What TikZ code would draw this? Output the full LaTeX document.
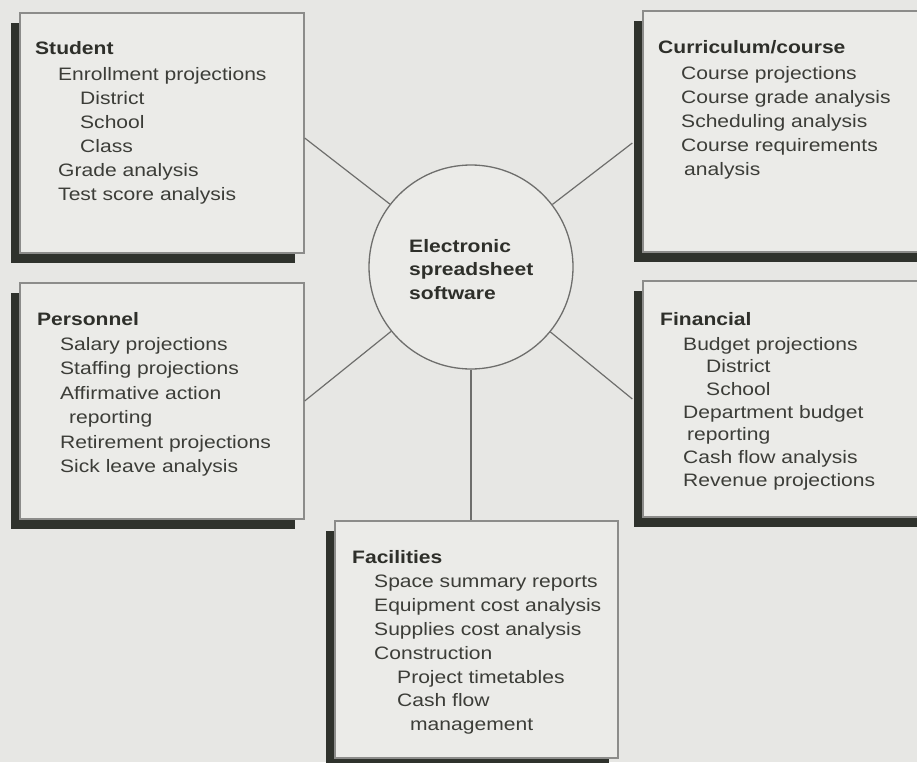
\documentclass[tikz,border=0pt]{standalone}
\usepackage{fontspec}
\setmainfont[FakeStretch=1.17]{Liberation Sans}
\usetikzlibrary{shadows}
\definecolor{paper}{HTML}{E7E7E4}
\definecolor{panelfill}{HTML}{EBEBE8}
\definecolor{panelrule}{HTML}{8C8C8A}
\definecolor{shade}{HTML}{2F322C}
\definecolor{ink}{HTML}{3C3D38}
\definecolor{headink}{HTML}{2E2F2A}
\definecolor{wirecol}{HTML}{6E6E6C}
% one indented line of a panel list
\newcommand\ent[2]{\hbox{\kern#1pt\relax#2}}
% bold panel heading
\newcommand\head[1]{\hbox{\bfseries\color{headink}#1}}

\begin{document}
\begin{tikzpicture}[x=1pt,y=-1pt,
  panel/.style={rectangle, draw=panelrule, line width=1.3pt, fill=panelfill,
    inner sep=0pt,
    drop shadow={shadow xshift=-9pt, shadow yshift=-10pt, fill=shade, opacity=1}},
  hub/.style={circle, draw=wirecol, line width=1.3pt, fill=panelfill,
    minimum size=204pt, inner sep=0pt},
  txt/.style={anchor=base west, inner sep=0pt, text=ink,
    font=\fontsize{18}{24}\selectfont},
  wire/.style={draw=wirecol, line width=1.2pt}]

\useasboundingbox (0,0) rectangle (917,762);
\clip (0,0) rectangle (917,762);
\fill[paper] (0,0) rectangle (917,762);

% panels
\node[panel, minimum width=284pt, minimum height=240pt] (stu) at (162,133) {};
\node[panel, minimum width=287pt, minimum height=241pt] (cur) at (786.5,131.5) {};
\node[panel, minimum width=284pt, minimum height=236pt] (per) at (162,401) {};
\node[panel, minimum width=287pt, minimum height=236pt] (fin) at (786.5,399) {};
\node[panel, minimum width=283pt, minimum height=237pt] (fac) at (476.5,639.5) {};

% central circle
\node[hub] (hub) at (471,267) {};

% connectors
\draw[wire] ([yshift=-5pt]stu.east) -- (hub);
\draw[wire] ([shift={(-10pt,-11.5pt)}]cur.west) -- (hub);
\draw[wire] (per.east) -- (hub);
\draw[wire] ([xshift=-10pt]fin.west) -- (hub);
\draw[wire] (hub.south) -- (hub.south |- fac.north);

% hub label
\node[txt, text=headink] (hubT) at (409,252) {\vtop{\baselineskip=23.5pt\relax
  \head{Electronic}\head{spreadsheet}\head{software}}};

% panel texts
\node[txt] (stuT) at (35,55) {\vtop{\head{Student}\kern2pt
  \ent{23}{Enrollment projections}
  \ent{45}{District}
  \ent{45}{School}
  \ent{45}{Class}
  \ent{23}{Grade analysis}
  \ent{23}{Test score analysis}}};

\node[txt] (curT) at (658,54) {\vtop{\head{Curriculum/course}\kern2pt
  \ent{23}{Course projections}
  \ent{23}{Course grade analysis}
  \ent{23}{Scheduling analysis}
  \ent{23}{Course requirements}
  \ent{26}{analysis}}};

\node[txt] (perT) at (37,325) {\vtop{\baselineskip=24.5pt\relax
  \head{Personnel}\kern0.5pt
  \ent{23}{Salary projections}
  \ent{23}{Staffing projections}
  \ent{23}{Affirmative action}
  \ent{32}{reporting}
  \ent{23}{Retirement projections}
  \ent{23}{Sick leave analysis}}};

\node[txt] (finT) at (660,325) {\vtop{\baselineskip=22.7pt\relax
  \head{Financial}\kern2.3pt
  \ent{23}{Budget projections}
  \ent{46}{District}
  \ent{46}{School}
  \ent{23}{Department budget}
  \ent{27}{reporting}
  \ent{23}{Cash flow analysis}
  \ent{23}{Revenue projections}}};

\node[txt] (facT) at (352,563) {\vtop{\baselineskip=23.8pt\relax
  \head{Facilities}\kern1pt
  \ent{22}{Space summary reports}
  \ent{22}{Equipment cost analysis}
  \ent{22}{Supplies cost analysis}
  \ent{22}{Construction}
  \ent{45}{Project timetables}
  \ent{45}{Cash flow}
  \ent{58}{management}}};
\end{tikzpicture}
\end{document}
